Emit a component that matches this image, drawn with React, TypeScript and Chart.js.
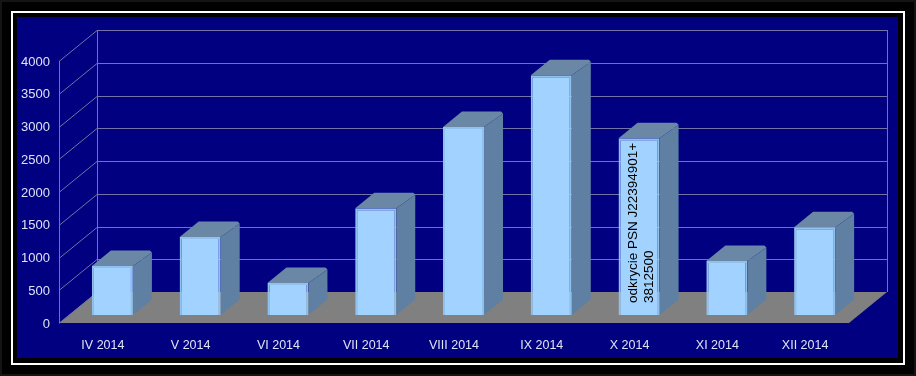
import React, { useEffect, useRef } from "react";
import { Chart, registerables } from "chart.js";

Chart.register(...registerables);

const categories = ["IV 2014", "V 2014", "VI 2014", "VII 2014", "VIII 2014", "IX 2014", "X 2014", "XI 2014", "XII 2014"];
const values = [750, 1190, 490, 1630, 2870, 3660, 2700, 825, 1340];
const annotationIndex = 6;
const annotationLines = ["odkrycie PSN J22394901+", "3812500"];

const FONT = "Arial, 'Liberation Sans', sans-serif";
const LABEL = "#dfe3f5";
const GRID = "#7373a8";

// depth of the whole box, and how far the bars stand behind the front plane
const BOX_DX = 38, BOX_DY = 31;
const FRONT_DX = 9.5, FRONT_DY = 8;
const BAR_DX = 19, BAR_DY = 15.5;

const scene = {
  id: "scene",
  beforeDraw(chart: any) {
    const { ctx, width, height } = chart;
    ctx.save();
    ctx.fillStyle = "#141414";
    ctx.fillRect(0, 0, width, height);
    ctx.fillStyle = "#000000";
    ctx.fillRect(2, 2, width - 4, height - 4);
    ctx.fillStyle = "#ffffff";
    ctx.fillRect(11, 11, 894, 354);
    ctx.fillStyle = "#000000";
    ctx.fillRect(13, 13, 890, 350);
    ctx.fillStyle = "#000080";
    ctx.fillRect(17, 17, 881, 341);
    ctx.restore();
  },
  beforeDatasetsDraw(chart: any) {
    const { ctx, chartArea, scales } = chart;
    const y = scales.y;
    const fl = chartArea.left - FRONT_DX, fr = chartArea.right - FRONT_DX;
    const bl = fl + BOX_DX, br = fr + BOX_DX;
    const fy = (v: number) => y.getPixelForValue(v) + FRONT_DY;
    const by = (v: number) => fy(v) - BOX_DY;
    ctx.save();
    // floor
    ctx.fillStyle = "#808080";
    ctx.beginPath();
    ctx.moveTo(fl, fy(0));
    ctx.lineTo(fr, fy(0));
    ctx.lineTo(br, by(0));
    ctx.lineTo(bl, by(0));
    ctx.closePath();
    ctx.fill();
    // walls
    ctx.strokeStyle = GRID;
    ctx.lineWidth = 1;
    for (const t of y.ticks) {
      const v = t.value;
      ctx.beginPath();
      ctx.moveTo(fl, Math.round(fy(v)) + 0.5);
      ctx.lineTo(bl, Math.round(by(v)) + 0.5);
      if (v > 0) ctx.lineTo(br, Math.round(by(v)) + 0.5);
      ctx.stroke();
    }
    ctx.beginPath();
    ctx.moveTo(Math.round(fl) + 0.5, fy(y.max));
    ctx.lineTo(Math.round(fl) + 0.5, fy(0));
    ctx.moveTo(Math.round(bl) + 0.5, by(y.max));
    ctx.lineTo(Math.round(bl) + 0.5, by(0));
    ctx.moveTo(Math.round(br) + 0.5, by(y.max));
    ctx.lineTo(Math.round(br) + 0.5, by(0));
    ctx.stroke();
    // bar sides and tops
    for (const bar of chart.getDatasetMeta(0).data) {
      const { x, y: top, base, width } = bar.getProps(["x", "y", "base", "width"], true);
      const l = x - width / 2, r = x + width / 2;
      ctx.fillStyle = "#6a88a6";
      ctx.beginPath();
      ctx.moveTo(l, top);
      ctx.lineTo(l + BAR_DX, top - BAR_DY);
      ctx.lineTo(r + BAR_DX - 2, top - BAR_DY);
      ctx.lineTo(r + BAR_DX, top - BAR_DY + 2);
      ctx.lineTo(r, top);
      ctx.closePath();
      ctx.fill();
      ctx.fillStyle = "#5f80a3";
      ctx.beginPath();
      ctx.moveTo(r, top);
      ctx.lineTo(r + BAR_DX, top - BAR_DY + 2);
      ctx.lineTo(r + BAR_DX, base - BAR_DY);
      ctx.lineTo(r, base);
      ctx.closePath();
      ctx.fill();
    }
    ctx.restore();
  },
  afterDatasetsDraw(chart: any) {
    const { ctx } = chart;
    const bar = chart.getDatasetMeta(0).data[annotationIndex];
    const { x, base } = bar.getProps(["x", "base"], true);
    ctx.save();
    ctx.translate(x, base - 12);
    ctx.rotate(-Math.PI / 2);
    ctx.fillStyle = "#000000";
    ctx.font = `13.5px ${FONT}`;
    ctx.textAlign = "left";
    ctx.textBaseline = "middle";
    annotationLines.forEach((line, i) => ctx.fillText(line, 0, -6 + i * 16));
    ctx.restore();
  },
};

export default function App() {
  const ref = useRef<HTMLCanvasElement>(null);
  useEffect(() => {
    document.body.style.margin = "0";
    const chart = new Chart(ref.current!, {
      type: "bar",
      data: {
        labels: categories,
        datasets: [{
          data: values,
          backgroundColor: "#a2d2ff",
          borderColor: "#8fc0ee",
          borderWidth: 2,
          barPercentage: 0.4675,
          categoryPercentage: 1,
        }],
      },
      options: {
        responsive: false,
        animation: false,
        layout: { padding: { top: 53, right: 57.5, left: 0, bottom: 0 } },
        plugins: { legend: { display: false }, tooltip: { enabled: false } },
        scales: {
          x: {
            grid: { display: false },
            border: { display: false },
            afterFit: (s: any) => { s.height = 61; },
            ticks: {
              color: LABEL,
              font: { family: FONT, size: 12.5 },
              padding: 15,
              labelOffset: -FRONT_DX,
              maxRotation: 0,
              autoSkip: false,
            },
          },
          y: {
            min: 0,
            max: 4000,
            grid: { display: false },
            border: { display: false },
            afterFit: (s: any) => { s.width = 68.5; },
            ticks: {
              color: LABEL,
              font: { family: FONT, size: 13 },
              stepSize: 500,
              padding: 10.5,
              labelOffset: FRONT_DY + 1,
              callback: (v: any) => String(v),
            },
          },
        },
      },
      plugins: [scene],
    } as any);
    return () => chart.destroy();
  }, []);
  return <canvas ref={ref} width={916} height={376} style={{ display: "block" }} />;
}
